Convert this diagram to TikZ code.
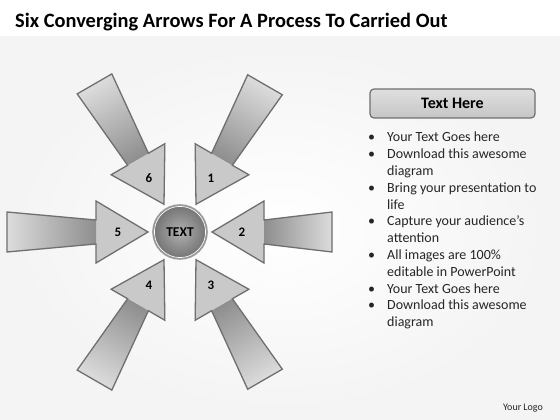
\documentclass[tikz,border=0pt]{standalone}
\usepackage{fontspec}
\setmainfont{Carlito}
\definecolor{arrowfill}{HTML}{C9C9C9}
\definecolor{arrowline}{HTML}{6F6F6F}
\definecolor{shaftdark}{HTML}{8E8E8E}
\definecolor{shaftlight}{HTML}{DCDCDC}
\definecolor{bodytext}{HTML}{262626}
\begin{document}
\begin{tikzpicture}[x=1pt,y=1pt,
  numlabel/.style={font=\fontsize{13}{13}\selectfont\bfseries, text=black},
  arrowedge/.style={draw=arrowline, line width=1.3pt, line join=miter}]
  \useasboundingbox (0,0) rectangle (560,420);
  \fill[white] (0,0) rectangle (560,420);
  \shade[inner color=white, outer color=gray!9] (0,0) rectangle (560,383);
  \node[anchor=base west, inner sep=0pt, font=\fontsize{20.4}{24}\selectfont\bfseries]
    (title) at (15,392) {Six Converging Arrows For A Process To Carried Out};

  % six arrows pointing at the middle
  \def\tip{32}
  \def\hb{84}
  \def\hw{31}
  \def\nw{12}
  \def\tw{20}
  \foreach \ang/\len [count=\i] in {60/170, 0/152, -60/170, -120/171, 180/173, 120/171} {
    \begin{scope}[shift={(180,188)}, rotate=\ang]
      \fill[arrowfill] (\tip,0) -- (\hb,\hw) -- (\hb,\nw) -- (\len,\tw) -- (\len,-\tw)
        -- (\hb,-\nw) -- (\hb,-\hw) -- cycle;
    \end{scope}
    \begin{scope}[transform canvas={shift={(180,188)}, rotate=\ang}]
      \shade[left color=shaftdark, middle color=shaftlight!92!shaftdark, right color=shaftlight]
        (\hb,\nw) -- (\len,\tw) -- (\len,-\tw) -- (\hb,-\nw) -- cycle;
    \end{scope}
    \begin{scope}[shift={(180,188)}, rotate=\ang]
      \draw[arrowedge] (\tip,0) -- (\hb,\hw) -- (\hb,\nw) -- (\len,\tw) -- (\len,-\tw)
        -- (\hb,-\nw) -- (\hb,-\hw) -- cycle;
      \node[numlabel] (n\i) at (62,0) {\i};
    \end{scope}
  }

  \node[circle, minimum size=54pt, inner sep=0pt, inner color=gray!62, outer color=black!55,
    draw=gray!80, line width=1.6pt, font=\fontsize{13.5}{14}\selectfont\bfseries]
    (ctr) at (180,188) {TEXT};
  \draw[white, line width=0.7pt] (ctr.center) circle (25.6);

  % right hand text
  \node[draw=arrowline, line width=1.2pt, rounded corners=4pt, minimum width=165pt,
    minimum height=29pt, top color=gray!25, bottom color=gray!45,
    font=\fontsize{16}{18}\selectfont\bfseries] (hdr) at (452.5,316.5) {Text Here};
  \node[anchor=base west, inner sep=0pt, text=bodytext, font=\fontsize{14}{16.8}\selectfont]
    (bullets) at (368,278) {\begin{tabular}[t]{@{}p{19pt}@{}l@{}}
      \textbullet & Your Text Goes here\\
      \textbullet & Download this awesome\\
      & diagram\\
      \textbullet & Bring your presentation to\\
      & life\\
      \textbullet & Capture your audience’s\\
      & attention\\
      \textbullet & All images are 100\%\\
      & editable in PowerPoint\\
      \textbullet & Your Text Goes here\\
      \textbullet & Download this awesome\\
      & diagram
    \end{tabular}};
  \node[text=bodytext, font=\fontsize{10}{12}\selectfont] (logo) at (523,12) {Your Logo};
\end{tikzpicture}
\end{document}
